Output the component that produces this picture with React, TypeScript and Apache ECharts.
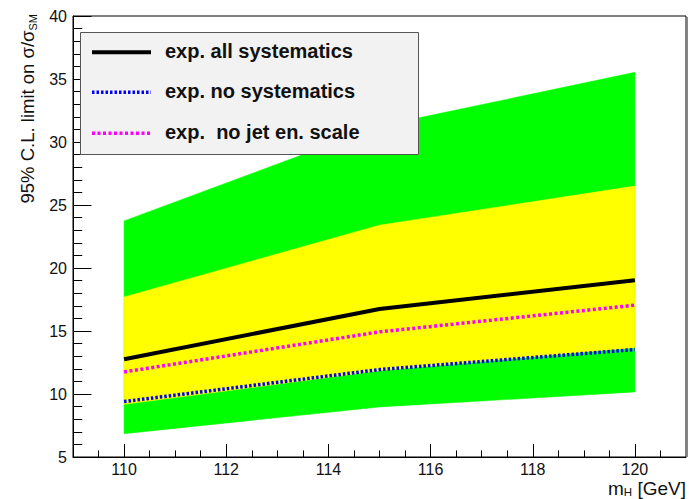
import React, { useEffect, useRef } from 'react';
import * as echarts from 'echarts';

// Higgs mass points (GeV)
const masses = [110, 115, 120];
// Expected limit bands
const band2Low = [6.85, 8.97, 10.16];
const band1Low = [9.18, 11.85, 13.68];
const band1High = [17.7, 23.4, 26.5];
const band2High = [23.74, 31.26, 35.53];
// Expected limit curves
const expAll = [12.76, 16.75, 19.02];
const expNoSyst = [9.4, 11.94, 13.53];
const expNoJES = [11.75, 14.93, 17.05];

// Axis ticks
const xMajorTicks = [110, 112, 114, 116, 118, 120];
const xMinorTicks = [
  109.5, 110, 110.5, 111, 111.5, 112, 112.5, 113, 113.5, 114, 114.5, 115, 115.5,
  116, 116.5, 117, 117.5, 118, 118.5, 119, 119.5, 120, 120.5,
];
const legendLabels = ['exp. all systematics', 'exp. no systematics', 'exp.  no jet en. scale'];

const FONT = "'Liberation Sans', Arial, Helvetica, sans-serif";

const pairs = (ys: number[]) => masses.map((m, i) => [m, ys[i]]);

const bandSeries = (lo: number[], hi: number[], color: string, z: number) => ({
  type: 'custom',
  silent: true,
  z,
  clip: true,
  xAxisIndex: 0,
  yAxisIndex: 0,
  data: masses.map((m, i) => [m, lo[i], hi[i]]),
  encode: { x: 0, y: [1, 2] },
  renderItem: (params: any, api: any) => {
    if (params.dataIndex !== 0) return null;
    const upper = masses.map((m, i) => api.coord([m, hi[i]]));
    const lower = masses.map((m, i) => api.coord([m, lo[i]])).reverse();
    return {
      type: 'polygon',
      shape: { points: [...upper, ...lower] },
      style: { fill: color, stroke: color, lineWidth: 0.5 },
    };
  },
});

export default function App() {
  const ref = useRef<HTMLDivElement>(null);
  useEffect(() => {
    if (!ref.current) return;
    const chart = echarts.init(ref.current, undefined, { renderer: 'svg' });
    const lineStyles = [
      { color: '#000000', width: 4, type: 'solid' as any },
      { color: '#0000ff', width: 3.5, type: [2.5, 2] as any },
      { color: '#ff00ff', width: 3.5, type: [3, 2.5] as any },
    ];
    const legendY = [52.3, 92.3, 133.3];
    const baseSeries = {
      type: 'line',
      symbol: 'none',
      silent: true,
      xAxisIndex: 0,
      yAxisIndex: 0,
    };
    const option: any = {
      animation: false,
      backgroundColor: '#ffffff',
      grid: {
        left: 73,
        top: 16,
        right: 3,
        bottom: 42,
        show: true,
        borderColor: '#000',
        borderWidth: 1,
        backgroundColor: 'transparent',
      },
      xAxis: [
        {
          type: 'value',
          min: 109,
          max: 121,
          interval: 0.5,
          axisLine: { show: true, lineStyle: { color: '#000', width: 1 } },
          axisTick: { show: true, inside: true, length: 6.6, lineStyle: { color: '#000' }, customValues: xMinorTicks },
          axisLabel: {
            show: true,
            customValues: xMajorTicks,
            fontFamily: FONT,
            fontSize: 16,
            color: '#111',
            margin: 4,
          },
          splitLine: { show: false },
        },
        {
          type: 'value',
          min: 109,
          max: 121,
          position: 'bottom',
          axisLine: { show: false },
          axisTick: { show: true, inside: true, length: 13, lineStyle: { color: '#000' }, customValues: xMajorTicks },
          axisLabel: { show: false },
          splitLine: { show: false },
        },
      ],
      yAxis: {
        type: 'value',
        min: 5,
        max: 40,
        interval: 5,
        axisLine: { show: true, lineStyle: { color: '#000', width: 1 } },
        axisTick: { show: true, inside: true, length: 18.5, lineStyle: { color: '#000' } },
        minorTick: { show: true, splitNumber: 5, length: 9.2, lineStyle: { color: '#000' } },
        axisLabel: { fontFamily: FONT, fontSize: 16, color: '#111', margin: 6 },
        splitLine: { show: false },
        minorSplitLine: { show: false },
      },
      series: [
        bandSeries(band2Low, band2High, '#00ff00', 1),
        bandSeries(band1Low, band1High, '#ffff00', 2),
        { ...baseSeries, name: legendLabels[0], data: pairs(expAll), lineStyle: lineStyles[0], z: 5 },
        { ...baseSeries, name: legendLabels[2], data: pairs(expNoJES), lineStyle: lineStyles[2], z: 5 },
        { ...baseSeries, name: legendLabels[1], data: pairs(expNoSyst), lineStyle: lineStyles[1], z: 5 },
      ],
      graphic: [
        // right-hand frame shadow
        {
          type: 'line',
          z: 100,
          shape: { x1: 687.5, y1: 17, x2: 687.5, y2: 457 },
          style: { stroke: '#888', lineWidth: 1 },
        },
        // legend box
        {
          type: 'rect',
          z: 100,
          shape: { x: 80.5, y: 32.5, width: 338, height: 122 },
          style: { fill: '#f2f2f2', stroke: '#555', lineWidth: 1 },
        },
        ...legendLabels.map((lab, i) => ({
          type: 'line',
          z: 101,
          shape: { x1: 92, y1: legendY[i], x2: 151, y2: legendY[i] },
          style: {
            stroke: lineStyles[i].color,
            lineWidth: lineStyles[i].width,
            lineDash: lineStyles[i].type === 'solid' ? null : lineStyles[i].type,
          },
        })),
        ...legendLabels.map((lab, i) => ({
          type: 'text',
          z: 101,
          x: 165,
          y: legendY[i] - 1,
          style: {
            text: lab,
            font: `bold 20px ${FONT}`,
            fill: '#111',
            textAlign: 'left',
            textVerticalAlign: 'middle',
          },
        })),
        // y-axis title
        {
          type: 'text',
          z: 101,
          x: 27,
          y: 14,
          rotation: Math.PI / 2,
          style: {
            text: '{a|95% C.L. limit on σ/σ}{s|SM}',
            textAlign: 'right',
            textVerticalAlign: 'middle',
            fill: '#111',
            rich: {
              a: { fontFamily: FONT, fontSize: 18.5, lineHeight: 22, verticalAlign: 'middle', color: '#111' },
              s: { fontFamily: FONT, fontSize: 11, lineHeight: 11, verticalAlign: 'bottom', color: '#111' },
            },
          },
        },
        // x-axis title
        {
          type: 'text',
          z: 101,
          x: 686,
          y: 488,
          style: {
            text: '{a|m}{s|H}{a| [GeV]}',
            textAlign: 'right',
            textVerticalAlign: 'middle',
            fill: '#111',
            rich: {
              a: { fontFamily: FONT, fontSize: 19, lineHeight: 20, verticalAlign: 'middle', color: '#111' },
              s: { fontFamily: FONT, fontSize: 11.5, lineHeight: 11, verticalAlign: 'bottom', color: '#111' },
            },
          },
        },
      ],
    };
    chart.setOption(option);
    return () => chart.dispose();
  }, []);
  return (
    <div
      ref={ref}
      style={{ position: 'fixed', left: 0, top: 0, width: 689, height: 499, background: '#fff' }}
    />
  );
}
